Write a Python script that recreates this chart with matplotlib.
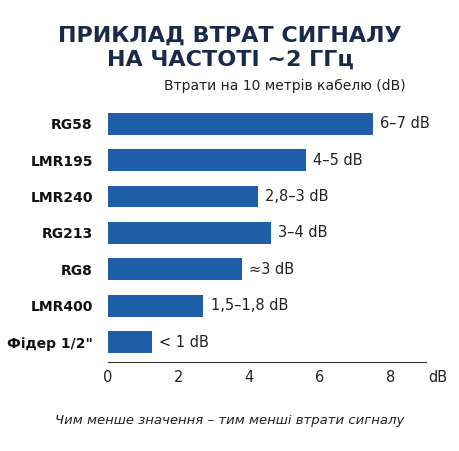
import matplotlib.pyplot as plt

cables = ['RG58', 'LMR195', 'LMR240', 'RG213', 'RG8', 'LMR400', 'Фідер 1/2"']
losses = [7.5, 5.6, 4.25, 4.6, 3.8, 2.7, 1.25]
labels = ['6–7 dB', '4–5 dB', '2,8–3 dB', '3–4 dB', '≈3 dB', '1,5–1,8 dB', '< 1 dB']
ticks = [0, 2, 4, 6, 8]

navy = '#1a2a4a'
fig = plt.figure(figsize=(4.6, 4.51), dpi=100)
ax = fig.add_axes([0.235, 0.197, 0.691, 0.577])

y = range(len(cables))
ax.barh(y, losses, height=0.6, color='#1f5ea8')
for i, (v, lab) in enumerate(zip(losses, labels)):
    ax.text(v + 0.2, i, lab, va='center', ha='left', fontsize=10.5, color='#222222')

ax.set_ylim(len(cables) - 0.45, -0.6)
ax.set_xlim(0, 9)
ax.set_yticks(list(y))
ax.set_yticklabels(cables, fontsize=10, fontweight='bold', color='#111111')
ax.set_xticks(ticks)
ax.set_xticklabels([str(t) for t in ticks], fontsize=10.5, color='#222222')
ax.tick_params(axis='y', length=0, pad=11)
ax.tick_params(axis='x', length=0, pad=6)
for s in ['top', 'right', 'left']:
    ax.spines[s].set_visible(False)
ax.spines['bottom'].set_color('#333333')
ax.annotate('dB', xy=(1.0, 0), xycoords='axes fraction', xytext=(2, -6),
            textcoords='offset points', fontsize=10.5, color='#222222',
            va='top', ha='left')

fig.text(0.5, 0.895, 'ПРИКЛАД ВТРАТ СИГНАЛУ\nНА ЧАСТОТІ ~2 ГГц', ha='center', va='center',
         fontsize=16, fontweight='bold', color=navy, linespacing=1.25)
fig.text(0.62, 0.81, 'Втрати на 10 метрів кабелю (dB)', ha='center', va='center',
         fontsize=10, color='#222222')
fig.text(0.5, 0.067, 'Чим менше значення – тим менші втрати сигналу', ha='center',
         va='center', fontsize=9.5, style='italic', color='#222222')

fig.savefig('out.png', dpi=100)
